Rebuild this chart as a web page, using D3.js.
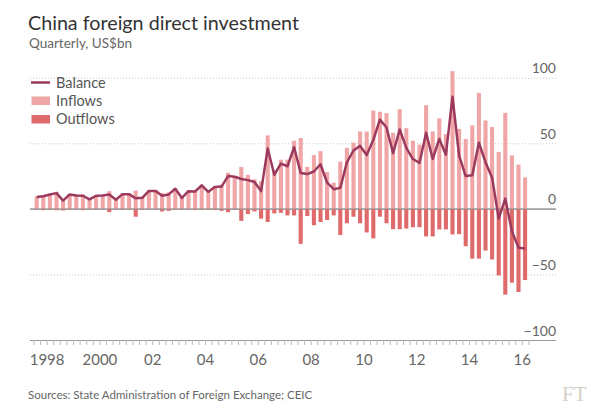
<!DOCTYPE html>
<html><head><meta charset="utf-8">
<script src="https://cdn.jsdelivr.net/npm/d3@7"></script>
<style>
body{margin:0;background:#fff;}
svg{display:block;font-family:Lato,"Open Sans",sans-serif;}
</style></head>
<body>
<svg id="c" width="601" height="406"></svg>
<script>
// Quarterly, 1998 Q1 .. 2016 Q3
const quarters = d3.range(75).map(i => (1998 + Math.floor(i/4)) + "Q" + (i%4+1));
const inflows = [
 9.5,10.5,11.5,13, 7.5,11.5,10.8,11, 7.8,10.5,10.5,13.5, 7.5,11.8,11.7,14,
 9,14.2,14.2,12, 12.5,15.8,8.8,14, 14,18.5,13.5,17.5, 18.5,27.5,25,32,
 25.9,22.5,21,56, 29.5,37.5,37.5,52, 54,32,41,44, 28,20,36,46.5,
 50.5,59,59,75, 74,73,58,76, 61.5,52,49,79, 59,69,57,105,
 61,53.3,63.6,88.4, 67.4,62.4,43.4,73.2, 40.7,33.8,24
];
const outflows = [
 -0.5,-1,-0.5,-1, -1.2,-0.5,-0.6,-1, -0.5,-0.5,-0.3,-2.5, -0.6,-0.6,-0.5,-6,
 -0.6,-0.5,-0.5,-2, -1.5,-0.5,-0.5,-0.5, -0.8,-0.6,-0.5,-0.8, -1.5,-2.5,-0.5,-9.2,
 -4,-2,-7.5,-10, -3.5,-3,-5,-5, -26.7,-5.5,-12.5,-10, -8.5,-5,-20,-11,
 -6,-11,-18,-22.5, -6,-11,-15.5,-15.5, -15,-14,-14,-21, -21,-15.7,-15.7,-19.5,
 -19.3,-28.5,-38,-38, -31.8,-38.6,-50.8,-65.4, -56.3,-63.4,-54.3
];
const balance = [
 9,9.6,11,12, 6.3,11,10.2,10, 7.3,10,10.2,11, 6.9,11.2,11.2,8,
 8.4,13.7,13.7,10, 11,15.3,8.3,13.5, 13.2,17.9,13,16.7, 17,25,24.5,22.8,
 21.9,20.5,13.5,46, 26,34.5,32.5,47, 27.3,26.5,28.5,34, 20,15,16,35.5,
 44.5,48,41,52.5, 68,62,42.5,60.5, 46.5,38,35,58, 38,53.3,41.3,85.5,
 40.5,25,25.6,50.4, 35.6,23.8,-7.4,7.8, -17,-29.6,-30.3
];
const yTicks = [100, 50, 0, -50, -100];
const yearTicks = [1998, 2000, 2002, 2004, 2006, 2008, 2010, 2012, 2014, 2016];
const yearLabels = ["1998", "2000", "02", "04", "06", "08", "10", "12", "14", "16"];
const legendItems = ["Balance", "Inflows", "Outflows"];

const C_IN = "#f0a6a6", C_OUT = "#df6a6b", C_BAL = "#9c3a5e";
const svg = d3.select("#c");

const x = d3.scaleBand().domain(quarters).range([33.4, 528.4]).paddingInner(0.38).paddingOuter(0.19);
const xt = d3.scaleLinear().domain([1998, 2016.75]).range([33.4, 528.4]);
const y = d3.scaleLinear().domain([-100, 100]).range([340, 77.7]);

// title
svg.append("text").attr("x", 28).attr("y", 30).attr("font-size", 20).attr("fill", "#333")
  .attr("textLength", 271).attr("lengthAdjust", "spacingAndGlyphs")
  .text("China foreign direct investment");
svg.append("text").attr("x", 29).attr("y", 48).attr("font-size", 13.5).attr("fill", "#666")
  .text("Quarterly, US$bn");

// y axis / grid
const gy = svg.append("g").attr("transform", "translate(30,0)")
  .call(d3.axisRight(y).tickValues(yTicks).tickSize(526).tickFormat(d3.format("d")));
gy.select(".domain").remove();
gy.selectAll(".tick line")
  .attr("stroke", d => d === 0 || d === -100 ? "#999" : "#c8c8c8")
  .attr("stroke-dasharray", d => d === 0 || d === -100 ? null : "1,2");
gy.selectAll(".tick text").attr("x", 526).attr("dy", -5).attr("text-anchor", "end")
  .attr("font-size", 14).attr("fill", "#666").attr("font-family", "Lato, sans-serif")
  .attr("dominant-baseline", "auto").attr("y", 0);

// bars
svg.append("g").selectAll("rect").data(inflows).join("rect")
  .attr("x", (d,i) => x(quarters[i])).attr("width", x.bandwidth())
  .attr("y", d => y(d)).attr("height", d => y(0) - y(d)).attr("fill", C_IN);
svg.append("g").selectAll("rect").data(outflows).join("rect")
  .attr("x", (d,i) => x(quarters[i])).attr("width", x.bandwidth())
  .attr("y", y(0)).attr("height", d => y(d) - y(0)).attr("fill", C_OUT);

// zero line over bars
svg.append("line").attr("x1", 30).attr("x2", 556).attr("y1", y(0)).attr("y2", y(0))
  .attr("stroke", "#999").attr("stroke-width", 1);

// balance line
const line = d3.line().x((d,i) => x(quarters[i]) + x.bandwidth()/2).y(d => y(d));
svg.append("path").datum(balance).attr("d", line).attr("fill", "none")
  .attr("stroke", C_BAL).attr("stroke-width", 2.5).attr("stroke-linejoin", "round");

// x axis
const gx = svg.append("g").attr("transform", `translate(0,${y(-100)})`)
  .call(d3.axisBottom(xt).tickValues(d3.range(1998, 2016.8, 0.25)).tickSize(5).tickFormat(""));
gx.select(".domain").remove();
gx.selectAll(".tick line").attr("stroke", "#bbb");
const gl = svg.append("g").attr("transform", `translate(0,${y(-100)})`)
  .call(d3.axisBottom(xt).tickValues(yearTicks.map(v => v + 0.5)).tickSize(0)
    .tickFormat((d,i) => yearLabels[i]));
gl.select(".domain").remove();
gl.selectAll(".tick text").attr("y", 25).attr("dy", 0).attr("font-size", 15).attr("fill", "#666")
  .attr("font-family", "Lato, sans-serif");

// legend
const lg = svg.append("g");
lg.append("line").attr("x1", 31).attr("x2", 50).attr("y1", 82.5).attr("y2", 82.5)
  .attr("stroke", C_BAL).attr("stroke-width", 2.5);
lg.append("rect").attr("x", 31.5).attr("y", 96.5).attr("width", 18.5).attr("height", 8.5).attr("fill", C_IN);
lg.append("rect").attr("x", 31.5).attr("y", 115).attr("width", 18.5).attr("height", 8.5).attr("fill", C_OUT);
lg.selectAll("text").data(legendItems).join("text")
  .attr("x", 56).attr("y", (d,i) => 87.5 + i*18.3).attr("font-size", 14.5).attr("fill", "#555").text(d => d);

// source + logo
svg.append("text").attr("x", 28).attr("y", 399).attr("font-size", 11.5).attr("fill", "#666")
  .text("Sources: State Administration of Foreign Exchange; CEIC");
svg.append("text").attr("x", 562).attr("y", 401).attr("font-size", 21)
  .attr("font-family", "'Liberation Serif', 'DejaVu Serif', serif").attr("fill", "#d6d0cb").text("FT");
</script>
</body></html>
